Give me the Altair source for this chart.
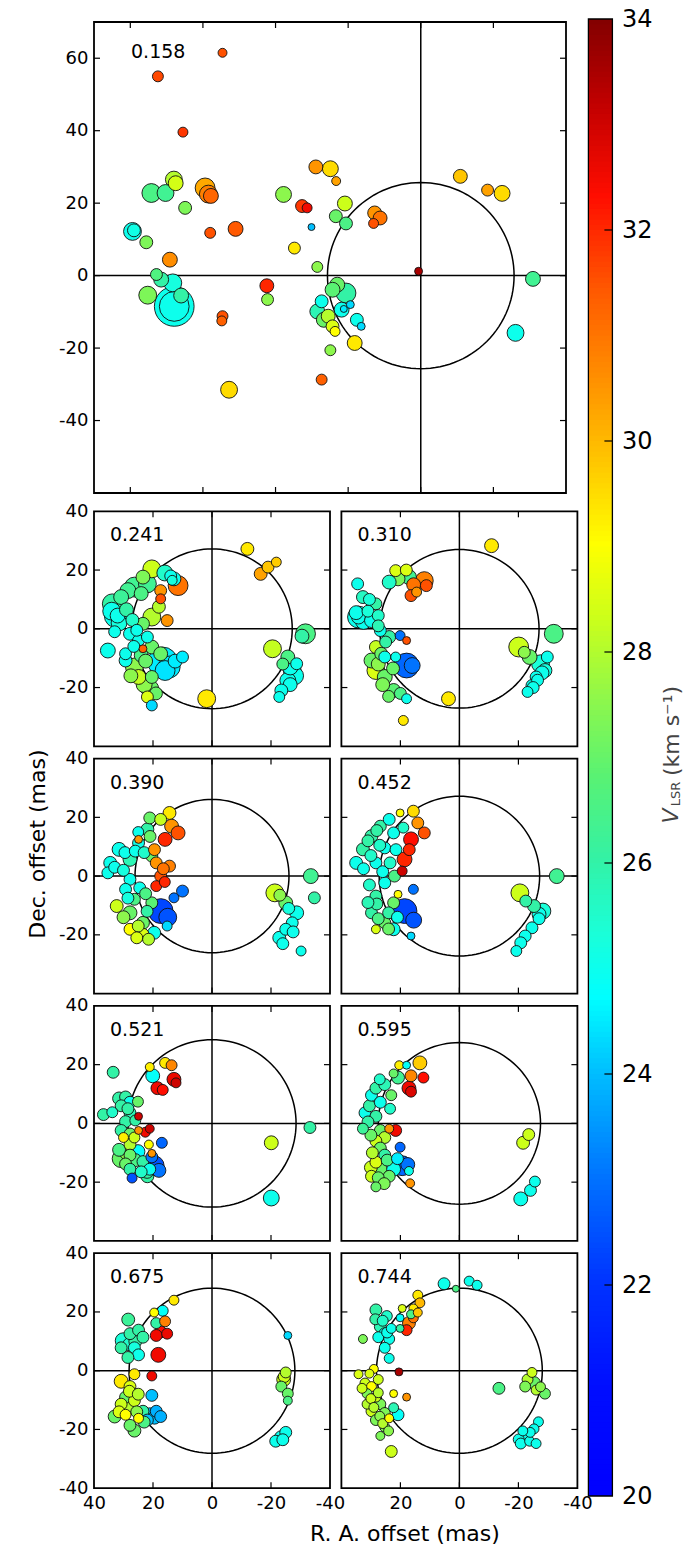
import altair as alt
import numpy as np
import pandas as pd

FONT = "DejaVu Sans"

# ---------------- data (R.A. offset, Dec. offset in mas, V_LSR km/s, spot size px) -------------
PHASES = ["0.158", "0.241", "0.310", "0.390", "0.452", "0.521", "0.595", "0.675", "0.744"]
RADII = [25.7, 27.2, 27.0, 26.1, 27.2, 28.5, 27.5, 28.1, 28.1]

RA_0158 = [54.6, 72.4, 65.5, 68.0, 67.5, 70.3, 74.2, 64.9, 79.4, 79.0, 75.6, 69.1, 59.4, 58.5, 57.8, 58.0, 51.0,
           72.8, 71.5, 68.3, 75.2, 66.0, 67.9, 67.9, 54.6, 54.8, 52.8, 42.4, 42.2, 37.8, 32.7, 31.3, 30.1, 34.8,
           28.9, 24.9, 23.3, 20.9, 23.4, 20.6, 28.5, 23.0, 24.3, 20.6, 27.3, 28.5, 26.7, 25.5, 24.3, 23.6, 21.8,
           19.4, 21.2, 17.6, 16.4, 18.2, 24.9, 27.3, 12.7, 11.2, 13.0, 0.6, -10.9, -18.4, -22.4, -30.9, -26.1]
DEC_0158 = [61.5, 55.0, 39.6, 26.5, 25.5, 22.8, 22.8, 18.7, 12.2, 12.5, 9.2, 4.4, 24.2, 22.5, 22.0, 11.8, 12.9,
            0.3, -1.1, -2.0, -5.4, -5.5, -8.5, -8.5, -11.2, -12.5, -31.5, -2.8, -6.6, 22.4, 19.2, 18.7, 13.4, 7.6,
            30.0, 29.5, 26.1, 19.9, 16.4, 14.4, 2.4, -2.5, -3.9, -4.8, -7.1, -9.9, -12.2, -11.2, -14.0, -15.4, -9.4,
            -8.0, -9.2, -12.2, -14.0, -18.6, -20.6, -28.7, 17.3, 15.9, 14.4, 1.2, 27.4, 23.6, 22.7, -0.9, -15.8]
V_0158 = [31.5, 31.6, 31.8, 28.0, 28.4, 26.3, 26.5, 27.3, 25.0, 25.1, 27.3, 30.6, 30.2, 30.8, 31.2, 31.5, 31.4,
          26.6, 26.0, 25.2, 27.3, 26.0, 25.0, 25.0, 31.5, 31.3, 29.5, 32.0, 27.5, 27.5, 31.8, 32.5, 24.0, 29.3,
          30.5, 29.5, 30.3, 28.3, 27.0, 26.5, 27.5, 27.0, 26.8, 26.0, 25.0, 25.8, 27.0, 28.0, 28.5, 29.0, 25.0,
          24.3, 24.5, 25.0, 24.3, 29.3, 27.5, 31.3, 30.5, 31.0, 31.5, 33.5, 29.8, 30.3, 29.5, 26.3, 25.0]
S_0158 = [9, 11, 10, 17, 15, 17, 19, 13, 18, 13, 13, 15, 20, 18, 15, 11, 15,
          12, 15, 18, 18, 15, 40, 30, 11, 10, 17, 14, 12, 16, 13, 10, 7, 12,
          14, 16, 9, 15, 13, 13, 11, 15, 15, 20, 13, 15, 15, 14, 13, 10, 15,
          8, 7, 13, 8, 15, 11, 11, 14, 14, 10, 8, 14, 12, 16, 15, 17]

RA_0241 = [-12.0, -16.5, -19.0, -21.8, -31.7, -20.5, -25.7, -28.7, -27.2, -25.7, -23.5, -22.8, 1.8, 32.3, 33.8,
           30.8, 35.3, 29.3, 26.3, 21.9, 20.4, 23.4, 12.9, 11.5, 17.4, 17.4, 20.4, 15.2, 23.4, 27.8, 24.9, 21.9,
           20.4, 17.4, 29.3, 26.3, 24.9, 20.4, 21.1, 21.9, 20.4, 16.7, 15.9, 10.0, 23.4, 32.0, 13.5,
           34.0, 31.5, 33.0, 29.0, 27.0, 25.5, 26.5, 24.0, 27.5, 23.0, 19.0, 22.5, 18.0, 16.0, 14.0, -26.5,
           -28.0, -26.5, -24.0, -30.5, 14.5, 12.5, 24.0, 28.5]
DEC_0241 = [27.2, 18.7, 21.0, 22.7, -1.7, -6.8, -9.6, -11.9, -14.2, -17.6, -21.0, -23.2, -23.8, 4.5, 8.5,
            10.8, -7.4, -8.5, 14.2, 15.3, 20.4, 17.6, 17.0, 14.7, 13.0, 10.2, 4.0, 2.8, 1.7, -1.7, -4.0, -2.8,
            -6.2, -8.5, -10.8, -13.0, -16.4, -16.4, -20.4, -23.2, -26.1, -11.3, -14.2, -9.6, -6.8, 4.5, 16.5,
            6.0, 2.0, -1.0, 6.5, 3.0, -0.5, -6.0, -9.0, -16.0, -19.0, -22.0, -11.0, 7.5, 19.0, 18.0, -13.0,
            -16.0, -19.0, -12.0, -2.5, -13.0, -11.0, 12.0, 13.0]
V_0241 = [29.3, 30.3, 29.8, 29.7, 26.5, 28.2, 26.5, 25.0, 25.0, 25.0, 25.0, 25.0, 29.3, 25.0, 26.0,
          26.2, 25.0, 25.0, 26.3, 26.3, 28.3, 27.3, 25.0, 31.0, 30.5, 31.5, 28.0, 30.5, 27.0, 25.0, 25.0, 25.0,
          27.0, 27.0, 25.0, 27.5, 28.2, 27.0, 27.0, 28.5, 24.3, 24.5, 24.4, 24.5, 31.3, 25.0, 25.2,
          25.0, 25.2, 25.0, 26.0, 25.5, 25.0, 25.0, 26.5, 27.5, 27.5, 27.0, 27.0, 28.0, 25.5, 25.0, 25.0,
          25.0, 25.0, 26.5, 26.0, 24.5, 24.5, 26.5, 26.3]
S_0241 = [13, 13, 12, 10, 20, 18, 14, 12, 18, 16, 13, 11, 18, 25, 20,
          15, 15, 12, 20, 18, 18, 14, 14, 20, 12, 10, 18, 12, 13, 13, 12, 12,
          14, 14, 13, 18, 15, 13, 18, 12, 11, 30, 20, 12, 8, 15, 10,
          18, 16, 12, 14, 13, 12, 12, 14, 14, 16, 13, 14, 13, 16, 12, 16,
          18, 14, 12, 14, 22, 14, 14, 16]

RA_0310 = [-10.9, -32.0, -20.1, -23.8, -27.5, -29.0, -26.0, -24.6, -23.1, -29.8, 3.7, 19.0, 17.9, 34.5, 34.2,
           34.2, 32.7, 28.3, 29.8, 26.8, 23.8, 28.3, 29.8, 28.3, 25.3, 22.3, 25.3, 21.6, 20.8, 17.1, 23.8, 11.9,
           11.2, 16.4, 14.5, 20.1, 17.9, 17.9, 21.6,
           32.5, 35.0, 31.0, 30.5, 27.5, 27.5, 25.0, 26.5, 27.5, 26.0, 24.0, 20.0, 22.5, 18.0, 15.5, -28.0,
           -26.5, -25.0, -22.0, 16.0]
DEC_0310 = [28.3, -1.7, -6.2, -9.6, -11.9, -14.2, -16.4, -19.3, -21.5, -9.6, -23.8, -31.2, -23.8, 15.3, 4.0,
            4.0, 10.8, 8.5, 2.8, -0.6, -2.8, -6.2, -10.8, -14.2, -16.4, -21.0, -9.6, 19.8, 17.0, 17.6, 15.9, 16.4,
            14.7, 11.3, 12.5, -2.3, -4.0, -12.5, -9.6,
            2.5, 5.5, 6.0, 10.0, 4.5, 1.0, -4.5, -8.5, -12.0, -19.0, -23.0, -22.0, -13.5, 20.0, 15.0, -15.0,
            -17.5, -20.0, -8.0, -12.5]
V_0310 = [29.3, 26.5, 28.3, 27.0, 25.3, 25.2, 25.0, 25.0, 25.0, 25.0, 29.3, 29.3, 25.0, 25.0, 25.0,
          25.0, 25.6, 26.0, 25.0, 25.0, 26.0, 28.2, 27.0, 28.5, 27.0, 26.8, 25.0, 28.5, 27.3, 26.3, 25.5, 30.8,
          31.5, 31.5, 30.5, 23.0, 31.5, 22.8, 25.0,
          25.0, 25.0, 25.3, 25.3, 25.5, 25.8, 26.0, 27.0, 27.5, 27.3, 27.0, 26.5, 27.0, 28.5, 31.0, 25.0,
          25.0, 25.0, 27.5, 23.0]
S_0310 = [14, 19, 20, 15, 18, 14, 12, 12, 11, 12, 14, 10, 10, 12, 22,
          14, 13, 12, 14, 12, 13, 13, 15, 18, 15, 14, 12, 12, 14, 15, 14, 18,
          12, 12, 10, 10, 8, 25, 10,
          16, 14, 12, 12, 12, 12, 12, 13, 14, 14, 12, 12, 13, 12, 14, 14,
          12, 12, 12, 16]

RA_0390 = [-33.5, -34.7, -21.3, -25.0, -28.7, -27.2, -25.0, -22.8, -30.2, -26.0, 34.5, 31.5, 35.3, 27.8, 24.9,
           21.9, 21.1, 14.4, 17.4, 13.7, 11.5, 15.9, 24.9, 20.4, 18.9, 14.4, 17.4, 18.9, 27.8, 29.3, 26.3, 32.3,
           27.8, 23.4, 27.8, 23.4, 19.6, 17.4, 10.0, 12.9, 15.2, 20.4,
           33.0, 29.5, 30.0, 26.0, 23.0, 28.5, 30.0, 25.0, 25.5, 21.5, 24.5, 22.0, 22.5, 19.5, 16.5, 16.0,
           21.0, 25.0, 15.0, -27.5, -24.0, -23.0]
DEC_0390 = [0.0, -7.4, -5.7, -9.1, -12.5, -15.9, -18.1, -21.0, -25.5, -11.0, 4.5, 9.1, 1.1, 5.7, 11.3,
            15.9, 19.8, 21.5, 19.3, 17.0, 14.7, 12.5, 12.5, 6.8, 4.5, 3.4, 0.0, -3.4, -1.1, -4.5, -7.9, -10.2,
            -12.5, -15.9, -18.1, -19.8, -19.3, -11.9, -5.1, -7.4, -17.0, -9.1,
            3.0, 8.0, 2.0, 8.5, 8.0, -7.5, -14.0, -17.0, -21.0, -21.5, -4.0, -12.0, -6.0, 9.0, 2.5, -2.0,
            13.5, 15.0, -14.0, -19.0, -23.0, -6.5]
V_0390 = [26.3, 26.0, 28.3, 27.0, 25.0, 25.0, 25.0, 25.0, 25.0, 25.2, 25.0, 25.0, 25.0, 25.8, 25.0,
          26.0, 27.0, 29.3, 28.2, 30.5, 31.5, 32.0, 30.5, 27.0, 30.5, 30.8, 31.5, 32.0, 25.0, 25.0, 26.5, 28.3,
          27.0, 27.0, 29.0, 28.5, 25.0, 22.3, 23.0, 23.0, 24.3, 26.8,
          25.0, 25.0, 25.2, 25.0, 25.5, 25.2, 27.5, 28.0, 28.5, 28.0, 25.0, 26.0, 26.5, 30.5, 31.0, 32.0,
          27.0, 25.0, 22.5, 25.0, 25.0, 27.5]
S_0390 = [15, 12, 18, 14, 14, 12, 12, 13, 10, 12, 13, 14, 12, 14, 12,
          13, 12, 13, 12, 14, 14, 14, 8, 12, 12, 12, 12, 11, 12, 12, 12, 13,
          14, 13, 12, 12, 13, 25, 12, 10, 10, 12,
          12, 12, 12, 12, 12, 12, 13, 12, 12, 12, 12, 12, 12, 12, 12, 11,
          12, 11, 18, 12, 12, 12]

RA_0452 = [-33.0, -20.5, -25.3, -28.3, -27.0, -24.6, -22.3, -20.8, -19.3, 35.0, 32.7, 29.8, 26.8, 23.8, 20.1,
           15.6, 14.1, 11.9, 16.4, 18.6, 19.4, 28.3, 25.3, 28.3, 22.3, 29.8, 25.3, 28.3, 22.3, 18.6, 15.6, 20.8,
           16.4, 25.3, 22.3, 22.0,
           32.5, 30.0, 31.0, 28.0, 27.0, 26.0, 30.5, 28.0, 31.0, 27.5, 24.0, 24.0, 21.0, 23.5, 21.5, 19.0,
           17.0, 15.5, -27.0, -22.5]
DEC_0452 = [0.0, -5.7, -10.2, -11.9, -14.5, -17.6, -20.4, -22.7, -25.5, 4.5, 9.1, 13.6, 17.0, 19.3, 21.5,
            22.1, 18.1, 14.7, 12.5, 5.7, 1.7, 4.5, -2.3, -6.8, -9.1, -12.5, -15.9, -18.1, -18.1, -11.9, -4.5, -6.2,
            -20.4, 9.6, 14.7, 0.0,
            2.5, 7.0, 12.0, 15.5, 10.5, 1.5, -3.0, -9.5, -9.0, -14.5, -18.0, -12.5, -14.0, 4.5, 9.0, 16.5,
            9.0, -15.0, -13.0, -8.5]
V_0452 = [26.3, 28.3, 26.0, 25.3, 25.0, 25.0, 25.0, 25.0, 25.0, 25.0, 26.0, 26.0, 26.0, 25.0, 29.0,
          29.5, 30.5, 31.5, 32.3, 32.0, 33.0, 25.0, 25.0, 26.0, 27.0, 26.0, 27.0, 28.5, 25.0, 22.3, 23.0, 29.0,
          24.3, 25.0, 25.0, 26.5,
          25.0, 25.5, 26.0, 26.0, 25.5, 25.0, 25.5, 26.0, 25.8, 26.5, 27.0, 26.0, 25.0, 25.5, 25.0, 25.5,
          32.0, 22.5, 25.0, 26.0]
S_0452 = [15, 18, 13, 16, 12, 12, 12, 12, 11, 13, 13, 13, 12, 12, 8,
          12, 12, 12, 15, 15, 10, 12, 12, 12, 12, 12, 12, 9, 13, 25, 10, 8,
          8, 12, 12, 12,
          12, 12, 12, 12, 12, 12, 12, 12, 12, 12, 12, 12, 12, 12, 12, 11,
          12, 16, 14, 12]

RA_0521 = [33.5, 36.8, 33.8, 29.3, 27.8, 30.8, 25.1, 27.8, 29.3, 30.8, 27.8, 30.0, 26.3, 27.8, 30.8, 27.8,
           29.3, 27.8, 27.1, 25.1, 23.4, 21.9, 21.1, 19.6, 20.4, 24.9, 22.6, 21.1, 24.9, 21.4, 17.0, 20.4, 21.1,
           20.1, 15.9, 13.7, 18.5, 16.7, 12.9, 12.2, -20.1, -20.1, -33.2,
           31.5, 28.5, 31.5, 29.0, 26.0, 24.0, 22.0, 18.0, 26.0]
DEC_0521 = [17.4, 3.0, 3.8, 9.0, 7.2, 6.0, 7.4, 3.6, 0.6, -2.4, -3.6, -4.8, -4.8, -7.2, -12.0, -10.8,
            -13.8, -15.6, -18.6, -9.6, -13.0, -18.0, -15.6, -14.4, -11.4, 2.4, -3.0, -1.8, -2.4, -7.2, -6.6, -10.2,
            19.2, 16.2, 20.6, 19.8, 12.0, 11.4, 15.0, 13.8, -6.6, -25.4, -1.4,
            8.5, 5.0, -9.0, -10.0, -12.5, -16.5, -16.5, -16.0, 1.0]
V_0521 = [26.0, 26.0, 25.5, 26.0, 25.0, 26.0, 27.0, 25.8, 26.0, 26.0, 27.0, 29.2, 28.3, 28.0, 27.0, 27.0,
          27.0, 26.0, 22.5, 24.7, 26.0, 26.0, 25.0, 22.5, 23.0, 33.0, 32.5, 33.0, 30.5, 29.0, 22.8, 30.5, 29.2,
          24.8, 29.3, 30.7, 32.5, 32.3, 32.6, 33.0, 28.3, 25.0, 26.0,
          26.0, 26.0, 26.5, 27.5, 26.5, 25.5, 26.0, 23.0, 26.0]
S_0521 = [12, 12, 11, 12, 12, 12, 11, 12, 12, 12, 12, 10, 11, 12, 18, 12,
          12, 12, 10, 14, 12, 13, 12, 20, 12, 8, 10, 9, 8, 9, 11, 8, 9,
          14, 11, 11, 13, 11, 14, 10, 14, 16, 12,
          13, 12, 13, 14, 13, 12, 13, 14, 11]

RA_0595 = [-23.5, -21.6, -25.6, -24.1, -20.8, 32.7, 32.0, 30.5, 29.8, 28.3, 25.3, 23.1, 26.8, 28.3, 26.8, 25.3,
           28.3, 26.8, 25.3, 28.3, 26.8, 29.8, 28.3, 23.8, 22.3, 19.4, 20.1, 17.1, 16.7, 21.6, 23.8, 20.4, 17.9,
           20.8, 16.4, 13.4, 17.1, 12.2, 16.4, 22.3,
           31.0, 30.0, 29.5, 30.0, 27.5, 25.5, 24.5, 21.0, 23.5, 27.0, 17.5]
DEC_0595 = [-3.8, -6.6, -19.8, -22.8, -25.7, -1.8, 3.6, 6.0, 9.6, 12.0, 13.2, 9.6, 7.2, 2.4, -2.4, -4.8,
            -6.0, -8.4, -10.8, -13.2, -15.6, -18.0, -21.6, -18.0, -15.6, -14.4, -8.1, -16.2, -20.4, -2.4, -1.8,
            19.8, 19.8, 15.6, 16.2, 20.6, 12.0, 15.6, 10.8, 17.0,
            0.5, -4.0, -10.0, -15.0, -18.5, -20.5, -12.5, -12.0, 5.0, 15.0, -14.0]
V_0595 = [28.3, 28.3, 25.0, 25.0, 25.0, 26.2, 25.0, 26.0, 25.0, 26.0, 25.8, 27.0, 25.0, 26.0, 27.0, 28.0,
          28.3, 27.0, 26.0, 28.5, 27.0, 28.3, 27.0, 27.0, 25.0, 22.8, 22.8, 25.0, 30.5, 32.5, 30.5, 29.2, 24.8,
          26.3, 30.7, 29.7, 32.5, 32.3, 32.8, 27.0,
          26.0, 27.0, 28.0, 28.3, 27.0, 27.3, 26.5, 24.5, 25.5, 25.5, 23.0]
S_0595 = [12, 13, 11, 12, 14, 11, 12, 12, 12, 12, 12, 11, 12, 12, 12, 12,
          12, 12, 12, 12, 14, 12, 10, 12, 14, 20, 10, 9, 9, 12, 9, 9, 8,
          13, 12, 14, 14, 11, 11, 9,
          12, 12, 12, 13, 12, 12, 12, 12, 11, 11, 14]

RA_0675 = [12.9, 16.7, 19.6, 18.9, 15.9, 17.4, 18.9, 15.2, 18.2, 20.4, 20.4, 28.4, 30.1, 27.8, 24.9, 23.4,
           26.3, 24.9, 30.8, 26.3, 30.8, 27.8, 29.3, 26.3, 30.8, 27.8, 33.0, 29.3, 27.8, 26.3, 24.9, 23.4, 21.1,
           18.9, 17.4, 21.9, -25.7, -24.3, -25.0, -23.5, -25.7, -25.7, -25.0, -23.5, -21.6,
           28.0, 26.0, 28.5, 28.0, 25.0, 31.5, 28.5, 25.5, 23.0, 19.5, -24.5, -24.0]
DEC_0675 = [24.0, 20.4, 19.8, 16.2, 16.8, 13.2, 12.0, 12.6, 5.4, -1.8, -8.4, 17.4, 10.2, 12.6, 13.8, 11.4,
            7.8, 5.4, 7.8, -1.2, -3.6, -5.4, -9.0, -10.2, -11.4, -12.6, -15.6, -15.0, -18.6, -20.4, -16.2, -13.8,
            -15.0, -13.8, -15.6, -16.8, 12.0, -3.0, -0.6, -5.4, -7.8, -10.2, -21.0, -22.8, -24.0,
            9.0, 10.0, 4.5, -7.0, -8.0, -14.0, -12.0, -14.0, -17.5, -16.0, -2.0, -23.5]
V_0675 = [29.3, 24.8, 29.0, 26.0, 30.8, 32.3, 32.5, 32.6, 32.5, 32.5, 24.0, 26.2, 25.3, 26.0, 26.0, 26.0,
          25.2, 25.0, 26.0, 29.3, 29.3, 28.5, 27.0, 28.3, 28.3, 27.0, 27.0, 29.0, 27.0, 27.0, 29.0, 26.0, 24.0,
          23.8, 23.8, 24.0, 24.3, 28.3, 28.0, 27.0, 27.0, 26.5, 25.0, 25.0, 25.0,
          25.5, 26.0, 26.0, 28.3, 28.0, 28.5, 28.0, 27.5, 26.5, 24.0, 28.3, 25.0]
S_0675 = [10, 11, 9, 11, 11, 12, 12, 11, 15, 10, 12, 13, 16, 12, 12, 12,
          12, 12, 12, 11, 14, 12, 12, 12, 12, 13, 13, 11, 12, 13, 10, 12, 14,
          12, 12, 12, 8, 14, 11, 11, 11, 9, 12, 14, 12,
          13, 13, 12, 12, 12, 12, 13, 12, 12, 13, 12, 12]

RA_0744 = [5.2, 1.2, -3.3, -6.0, 14.1, 13.4, 15.6, 19.4, 16.4, 14.1, 17.1, 15.6, 17.9, 20.1, 20.1, 32.7,
           28.3, 24.6, 26.8, 25.3, 27.5, 23.8, 23.1, 25.3, 23.8, 20.5, 34.2, 29.0, 32.0, 29.8, 27.5, 31.3, 28.3,
           31.3, 26.8, 29.8, 25.3, 28.3, 23.8, 25.3, 26.8, 23.1, 20.8, 22.3, 17.9, 22.3, -13.4, -24.6, -23.1,
           -25.3, -22.3, -26.0, -29.0, -26.8, -25.3, -22.3, -20.1, -23.8, -20.8, -26.0,
           30.5, 33.0, 30.0, 27.5, 29.0, 27.0, 26.0, 24.0, 28.5, 26.0, 24.5, -24.0, -21.5, -27.5]
DEC_0744 = [29.6, 27.9, 30.5, 29.1, 25.7, 23.1, 21.2, 21.2, 19.2, 19.8, 16.2, 18.0, 13.8, 18.0, 14.4, 10.8,
            20.7, 18.6, 15.0, 12.6, 11.4, 10.8, 14.4, 7.8, 4.2, -0.4, -1.2, 0.6, -4.2, -5.4, -3.0, -7.8, -9.0,
            -11.4, -11.4, -13.8, -14.4, -16.8, -16.2, -19.2, -22.2, -27.5, -15.0, -12.6, -9.0, -7.8, -6.0, -0.6,
            -3.0, -4.2, -5.4, -6.6, -7.8, -17.4, -19.8, -22.2, -23.4, -24.0, -24.8, -24.8,
            -1.0, -6.0, -9.5, -7.5, -12.5, -15.5, -18.0, -20.5, 17.5, 17.0, 13.0, -21.0, -20.5, -5.5]
V_0744 = [25.0, 26.5, 25.0, 25.0, 29.3, 30.0, 29.3, 28.5, 26.5, 29.8, 30.8, 31.0, 32.0, 24.8, 26.0, 27.3,
          26.0, 25.5, 25.8, 25.0, 25.0, 25.0, 25.0, 25.0, 25.0, 33.5, 28.5, 29.0, 28.3, 29.0, 28.3, 27.3, 28.3,
          28.0, 27.3, 28.3, 27.3, 27.3, 29.0, 27.3, 27.3, 28.3, 24.8, 25.8, 30.5, 29.0, 26.5, 28.3, 28.0,
          27.0, 27.3, 28.0, 27.0, 25.0, 25.0, 25.0, 25.0, 25.0, 25.0, 25.0,
          28.5, 28.3, 28.3, 28.0, 28.0, 27.5, 28.0, 27.5, 26.0, 25.5, 25.0, 25.0, 25.0, 27.5]
S_0744 = [12, 7, 10, 10, 10, 10, 9, 8, 9, 9, 13, 10, 11, 8, 8, 9,
          12, 11, 12, 12, 11, 11, 10, 11, 10, 8, 9, 9, 10, 10, 10, 10, 10,
          10, 11, 11, 11, 11, 9, 10, 9, 12, 12, 10, 8, 8, 12, 10, 11,
          13, 11, 10, 11, 10, 10, 11, 11, 10, 11, 10,
          9, 10, 10, 10, 10, 10, 10, 10, 11, 11, 11, 10, 10, 10]

TOP_XTICKS = [80, 60, 40, 20, 0, -20]
TOP_YTICKS = [60, 40, 20, 0, -20, -40]
TOP_YLABELS = [60, 40, 20, 0, -20, -40]
SM_TICKS = [20, 0, -20]
SM_YLABELS = [40, 20, 0, -20]
SM_YLABELS_LAST = [40, 20, 0, -20, -40]
SM_XLABELS_L = [40, 20, 0, -20, -40]
SM_XLABELS_R = [20, 0, -20, -40]
CB_TICKS = [20, 22, 24, 26, 28, 30, 32, 34]

# ---------------- colour map (jet-like, 20..34 km/s) ----------------
CSTOPS = [20.0, 21.0, 22.0, 23.0, 24.0, 24.7, 25.3, 26.0, 26.8, 27.5, 28.3, 29.0, 29.7, 30.5, 31.4,
          32.3, 33.2, 34.0]
CCOLS = ["#0000ff", "#000dff", "#0033ff", "#0073ff", "#00bfff", "#00ffff", "#1affd9", "#33f2a6",
         "#59f273", "#8cf74d", "#ccff1a", "#ffff00", "#ffcc00", "#ff9400", "#ff5900", "#ff0d00",
         "#bf0000", "#800000"]
CSCALE = alt.Scale(domain=CSTOPS, range=CCOLS, interpolate="rgb")

MINUS = "replace(datum.label, '\u2212', '-')"
TL = 6
MARKER_SCALE = 1.12
NOSTROKE = alt.ViewBackground(strokeOpacity=0)


def make_panel(label, ra, dec, vel, size, radius, xdom, ydom, w, h, cell_w, cell_h, xt, yt, xlab, ylab,
               lab_pos, xtitle=None, ytitle=None):
    xs = alt.Scale(domain=xdom, range=[0, w], nice=False, zero=False)
    ys = alt.Scale(domain=ydom, range=[h, 0], nice=False, zero=False)

    def axis(values, title_opts):
        kw = dict(values=values, ticks=False, domain=False, grid=False, labelFont=FONT,
                  labelFontSize=18, labelColor="black", labelExpr=MINUS, labelOverlap=False,
                  labelFlush=False, labelPadding=6)
        kw.update(title_opts)
        return alt.Axis(**kw)

    xkw = {}
    if xtitle:
        xkw = dict(titleFont=FONT, titleFontSize=22, titleFontWeight="normal", titleColor="black",
                   titleX=xtitle[1], titleY=xtitle[2], titleAlign="center", titleBaseline="middle")
    ykw = {}
    if ytitle:
        ykw = dict(titleFont=FONT, titleFontSize=22, titleFontWeight="normal", titleColor="black",
                   titleX=ytitle[1], titleY=ytitle[2], titleAngle=270, titleAlign="center",
                   titleBaseline="middle")
    xaxis = axis(xlab, xkw) if xlab else None
    yaxis = axis(ylab, ykw) if ylab else None
    xt_title = xtitle[0] if xtitle else None
    yt_title = ytitle[0] if ytitle else None

    def ex(f):
        return alt.X(f + ":Q", scale=xs, axis=xaxis, title=xt_title)

    def ey(f):
        return alt.Y(f + ":Q", scale=ys, axis=yaxis, title=yt_title)

    pts = pd.DataFrame({"ra": ra, "dec": dec, "v": vel,
                        "area": np.pi * (np.array(size, dtype=float) * MARKER_SCALE / 2) ** 2})
    pts = pts.sort_values("area", ascending=False, kind="stable")
    th = np.arange(0, 361, 3)
    circ = pd.DataFrame({"k": th, "cx": radius * np.cos(np.radians(th)),
                         "cy": radius * np.sin(np.radians(th))})
    zero = pd.DataFrame({"z": [0.0]})
    dxt = pd.DataFrame({"t": xt})
    dyt = pd.DataFrame({"t": yt})
    rule = dict(color="black", strokeWidth=1.2)

    layers = [
        alt.Chart(zero).mark_rule(color="black", strokeWidth=1.5).encode(
            x=ex("z"), y=alt.value(0), y2=alt.value(h)),
        alt.Chart(zero).mark_rule(color="black", strokeWidth=1.5).encode(
            y=ey("z"), x=alt.value(0), x2=alt.value(w)),
        alt.Chart(circ).mark_line(color="black", strokeWidth=1.5).encode(
            x=ex("cx"), y=ey("cy"), order=alt.Order("k:Q")),
        alt.Chart(dxt).mark_rule(**rule).encode(x=ex("t"), y=alt.value(0), y2=alt.value(TL)),
        alt.Chart(dxt).mark_rule(**rule).encode(x=ex("t"), y=alt.value(h), y2=alt.value(h - TL)),
        alt.Chart(dyt).mark_rule(**rule).encode(y=ey("t"), x=alt.value(0), x2=alt.value(TL)),
        alt.Chart(dyt).mark_rule(**rule).encode(y=ey("t"), x=alt.value(w), x2=alt.value(w - TL)),
        alt.Chart(pts).mark_circle(stroke="#111111", strokeWidth=0.9, opacity=1).encode(
            x=ex("ra"), y=ey("dec"),
            color=alt.Color("v:Q", scale=CSCALE, legend=None),
            size=alt.Size("area:Q", scale=None)),
        alt.Chart(zero).mark_rect(fillOpacity=0, stroke="black", strokeWidth=1.8).encode(
            x=alt.value(0), x2=alt.value(w), y=alt.value(0), y2=alt.value(h)),
        alt.Chart(pd.DataFrame({"s": [label]})).mark_text(
            align="left", baseline="middle", font=FONT, fontSize=19, color="black").encode(
            x=alt.value(lab_pos[0]), y=alt.value(lab_pos[1]), text="s:N"),
    ]
    return alt.layer(*layers).properties(width=cell_w, height=cell_h, view=NOSTROKE)


DATA = {
    "0.158": (RA_0158, DEC_0158, V_0158, S_0158),
    "0.241": (RA_0241, DEC_0241, V_0241, S_0241),
    "0.310": (RA_0310, DEC_0310, V_0310, S_0310),
    "0.390": (RA_0390, DEC_0390, V_0390, S_0390),
    "0.452": (RA_0452, DEC_0452, V_0452, S_0452),
    "0.521": (RA_0521, DEC_0521, V_0521, S_0521),
    "0.595": (RA_0595, DEC_0595, V_0595, S_0595),
    "0.675": (RA_0675, DEC_0675, V_0675, S_0675),
    "0.744": (RA_0744, DEC_0744, V_0744, S_0744),
}
RAD = dict(zip(PHASES, RADII))

TW, TH = 472, 471        # top panel plot area
PW, PH = 236, 235        # small panel plot area
ROW0_H = 476.4           # layout height of the first row (gives the wider gap below it)

top = make_panel("0.158", *DATA["0.158"], RAD["0.158"], [90, -40], [-60, 70], TW, TH, PW, ROW0_H,
                 TOP_XTICKS, TOP_YTICKS, None, TOP_YLABELS, (37, 30))

small = []
for i, ph in enumerate(PHASES[1:]):
    row, col = divmod(i, 2)
    last = row == 3
    ylab = (SM_YLABELS_LAST if last else SM_YLABELS) if col == 0 else None
    xlab = (SM_XLABELS_L if col == 0 else SM_XLABELS_R) if last else None
    ytitle = ("Dec. offset (mas)", -57, 85) if (row == 1 and col == 0) else None
    xtitle = ("R. A. offset (mas)", 63, 45) if (last and col == 1) else None
    small.append(make_panel(ph, *DATA[ph], RAD[ph], [40, -40], [-40, 40], PW, PH, PW, PH,
                            SM_TICKS, SM_TICKS, xlab, ylab, (16, 24), xtitle=xtitle, ytitle=ytitle))

# ---------------- colour bar (drawn from the cell right of the top panel) ----------------
CB_X0, CB_X1 = 247, 271        # bar edges inside its cell (px)
CB_TOP, CB_BOT = -3, 1474      # bar extent (px, relative to cell top)
cbv = np.round(np.arange(20, 34, 0.05), 3)
cb = pd.DataFrame({"v": cbv, "v2": np.minimum(cbv + 0.07, 34)})
cys = alt.Scale(domain=[20, 34], range=[CB_BOT, CB_TOP], nice=False, zero=False)
cbaxis = alt.Axis(orient="right", offset=CB_X1 - PW, values=CB_TICKS, ticks=False, domain=False,
                  grid=False, labelFont=FONT, labelFontSize=24, labelColor="black", labelPadding=9,
                  labelOverlap=False, labelFlush=False)
cb_rect = alt.Chart(cb).mark_rect().encode(
    y=alt.Y("v:Q", scale=cys, axis=cbaxis, title=None), y2="v2:Q",
    x=alt.value(CB_X0), x2=alt.value(CB_X1),
    color=alt.Color("v:Q", scale=CSCALE, legend=None))
cb_frame = alt.Chart(pd.DataFrame({"a": [0]})).mark_rect(
    fillOpacity=0, stroke="black", strokeWidth=1.3).encode(
    x=alt.value(CB_X0), x2=alt.value(CB_X1), y=alt.value(CB_TOP), y2=alt.value(CB_BOT))
cb_ticks = alt.Chart(pd.DataFrame({"t": CB_TICKS[1:-1]})).mark_rule(
    color="black", strokeWidth=1.2).encode(
    y=alt.Y("t:Q", scale=cys, axis=cbaxis, title=None), x=alt.value(CB_X1 - 8), x2=alt.value(CB_X1))
t_v = alt.Chart(pd.DataFrame({"s": ["V"]})).mark_text(
    angle=270, align="center", baseline="middle", font=FONT, fontSize=22, fontStyle="italic",
    color="#444444").encode(x=alt.value(330), y=alt.value(794), text="s:N")
t_lsr = alt.Chart(pd.DataFrame({"s": ["LSR"]})).mark_text(
    angle=270, align="center", baseline="middle", font=FONT, fontSize=13,
    color="#444444").encode(x=alt.value(335), y=alt.value(772), text="s:N")
t_unit = alt.Chart(pd.DataFrame({"s": ["(km s\u207b\u00b9)"]})).mark_text(
    angle=270, align="center", baseline="middle", font=FONT, fontSize=22,
    color="#444444").encode(x=alt.value(331), y=alt.value(709), text="s:N")
cbar = alt.layer(cb_rect, cb_ticks, cb_frame, t_v, t_lsr, t_unit).properties(
    width=PW, height=ROW0_H, view=NOSTROKE)

cells = [top, cbar] + small
chart = alt.concat(
    *cells, columns=2, spacing={"row": 12.3, "column": 11.4},
    align={"row": "each", "column": "each"}, bounds="flush"
).resolve_scale(color="independent").properties(
    padding={"left": 26, "top": 7, "right": 4, "bottom": 4}
).configure_view(strokeWidth=0).configure(background="white")

chart.save("out.html", embed_options={"renderer": "svg", "actions": False})
